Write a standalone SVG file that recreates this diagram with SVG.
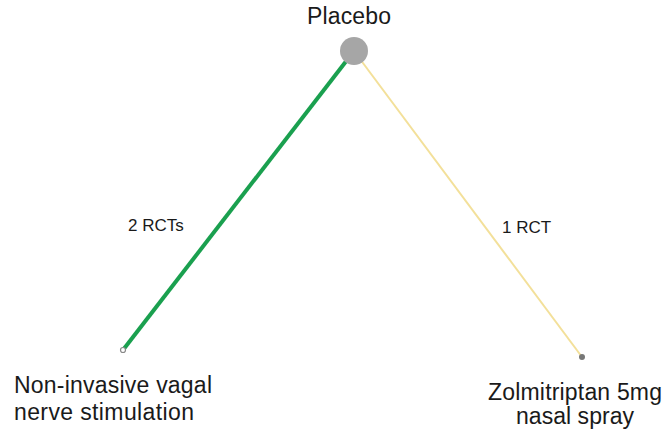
<svg xmlns="http://www.w3.org/2000/svg" width="665" height="435" viewBox="0 0 665 435">
<style>
.lbl{font-family:"Liberation Sans",Arial,sans-serif;font-size:23px;fill:#1a1a1a}
.el{font-family:"Liberation Sans",Arial,sans-serif;font-size:17px;fill:#1a1a1a}
</style>
<rect width="665" height="435" fill="#fff"/>
<g id="connectors">
<line x1="354" y1="51" x2="123" y2="350" stroke="#1aa04f" stroke-width="4"/>
<line x1="354" y1="51" x2="582" y2="357" stroke="#f3e09a" stroke-width="2"/>
<text class="el" x="128" y="231">2 RCTs</text>
<text class="el" x="502" y="233">1 RCT</text>
</g>
<g id="placebo">
<circle cx="354" cy="51" r="14" fill="#a6a6a6"/>
<text class="lbl" x="349" y="24" text-anchor="middle" textLength="84">Placebo</text>
</g>
<g id="nvns">
<circle cx="123" cy="350" r="2.5" fill="#fff" stroke="#888" stroke-width="1.2"/>
<text class="lbl" x="14" y="393" textLength="198">Non-invasive vagal</text>
<text class="lbl" x="14" y="420" textLength="180">nerve stimulation</text>
</g>
<g id="zolmitriptan">
<circle cx="582" cy="357" r="3" fill="#777"/>
<text class="lbl" x="575" y="400" text-anchor="middle" textLength="174">Zolmitriptan 5mg</text>
<text class="lbl" x="575" y="424" text-anchor="middle" textLength="118">nasal spray</text>
</g>
</svg>
